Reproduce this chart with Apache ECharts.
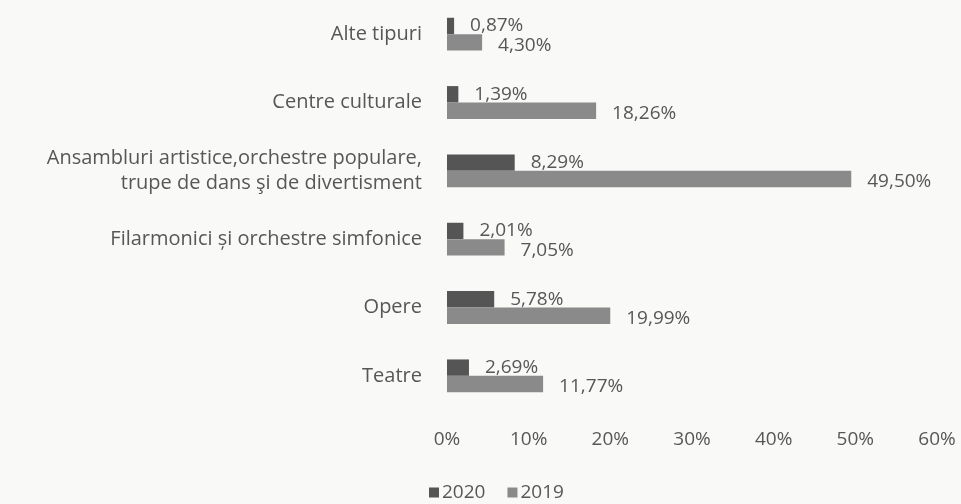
<!DOCTYPE html>
<html>
<head>
<meta charset="utf-8">
<script src="https://cdn.jsdelivr.net/npm/echarts@6/dist/echarts.min.js"></script>
<style>
  html, body { margin: 0; padding: 0; background: #f9f9f7; }
  #chart { width: 961px; height: 504px; }
</style>
</head>
<body>
<div id="chart"></div>
<script>
// categories, top to bottom
var categories = [
  'Alte tipuri',
  'Centre culturale',
  'Ansambluri artistice,orchestre populare,\ntrupe de dans şi de divertisment',
  'Filarmonici și orchestre simfonice',
  'Opere',
  'Teatre'
];
var values2020 = [0.87, 1.39, 8.29, 2.01, 5.78, 2.69];
var values2019 = [4.30, 18.26, 49.50, 7.05, 19.99, 11.77];
var xTicks = [0, 10, 20, 30, 40, 50, 60];

var textColor = '#575757';
var fontFam = '"Open Sans", sans-serif';

function pct(v) {
  return v.toFixed(2).replace('.', ',') + '%';
}

var chart = echarts.init(document.getElementById('chart'));
chart.setOption({
  backgroundColor: '#f9f9f7',
  animation: false,
  textStyle: { fontFamily: fontFam, color: textColor },
  grid: { left: 447, right: 24, top: -3, bottom: 94 },
  legend: {
    left: 424,
    top: 478,
    itemWidth: 10,
    itemHeight: 10,
    itemGap: 22,
    icon: 'rect',
    textStyle: { fontSize: 19, color: textColor, fontFamily: fontFam, padding: [0, 0, 0, -2] },
    data: ['2020', '2019']
  },
  xAxis: {
    type: 'value',
    min: xTicks[0],
    max: xTicks[xTicks.length - 1],
    interval: 10,
    axisLine: { show: false },
    axisTick: { show: false },
    splitLine: { show: false },
    axisLabel: {
      margin: 20,
      fontSize: 19,
      color: textColor,
      formatter: function (v) { return v + '%'; }
    }
  },
  yAxis: {
    type: 'category',
    inverse: true,
    data: categories,
    axisLine: { show: false },
    axisTick: { show: false },
    axisLabel: {
      margin: 25,
      fontSize: 20,
      lineHeight: 25,
      align: 'right',
      color: textColor
    }
  },
  series: [
    {
      name: '2020',
      type: 'bar',
      data: values2020,
      barGap: '0%',
      barCategoryGap: '52%',
      itemStyle: { color: '#555555' },
      label: {
        show: true,
        position: 'right',
        distance: 16,
        offset: [0, 0],
        fontSize: 19,
        color: textColor,
        formatter: function (p) { return pct(p.value); }
      }
    },
    {
      name: '2019',
      type: 'bar',
      data: values2019,
      itemStyle: { color: '#8a8a8a' },
      label: {
        show: true,
        position: 'right',
        distance: 16,
        offset: [0, 3],
        fontSize: 19,
        color: textColor,
        formatter: function (p) { return pct(p.value); }
      }
    }
  ]
});
</script>
</body>
</html>
